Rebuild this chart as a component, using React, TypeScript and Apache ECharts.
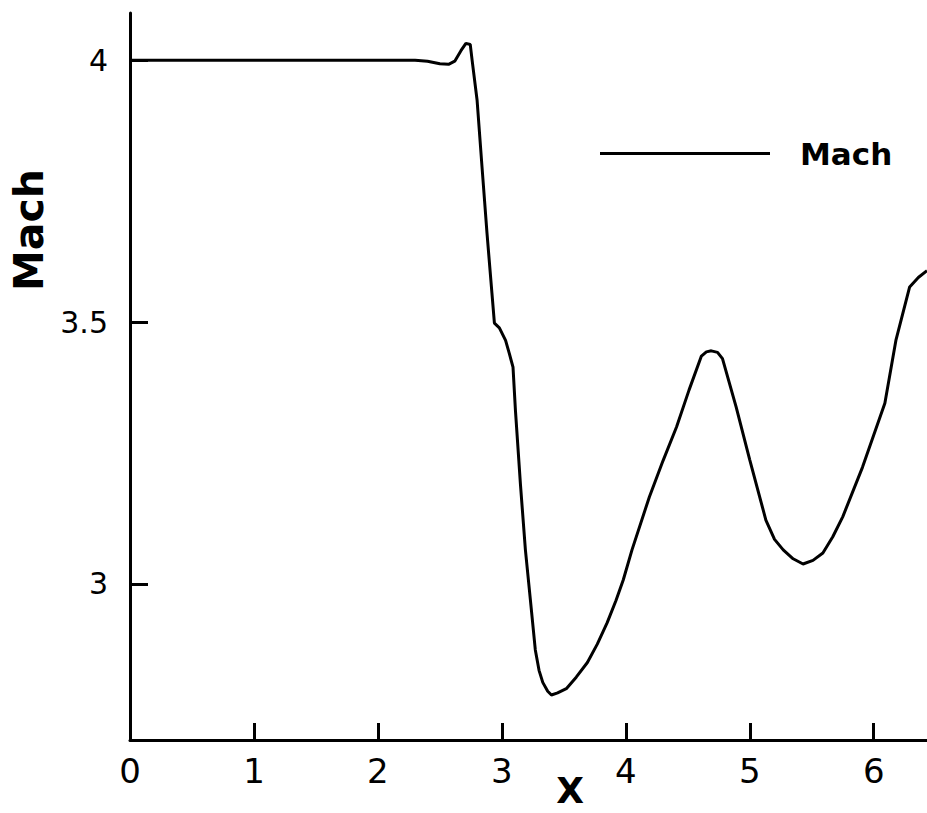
import React, { useEffect, useRef } from "react";
import * as echarts from "echarts";

const xValues = [
  0, 2.3, 2.4, 2.5, 2.57, 2.62, 2.67, 2.71, 2.745, 2.76, 2.8, 2.84, 2.88, 2.92, 2.94, 2.98, 3.03, 3.06,
  3.09, 3.11, 3.15, 3.19, 3.23, 3.27, 3.3, 3.33, 3.37, 3.4, 3.45, 3.52, 3.6, 3.69, 3.77, 3.85, 3.92,
  3.98, 4.05, 4.19, 4.3, 4.41, 4.51, 4.61, 4.65, 4.69, 4.74, 4.78, 4.89, 5.0, 5.13, 5.2, 5.27, 5.35,
  5.43, 5.51, 5.59, 5.67, 5.75, 5.91, 6.09, 6.18, 6.29, 6.36, 6.43,
];
const machValues = [
  4.0, 4.0, 3.998, 3.993, 3.992, 3.998, 4.018, 4.032, 4.03, 4.0, 3.924, 3.796, 3.67, 3.555, 3.498,
  3.489, 3.465, 3.44, 3.414, 3.33, 3.19, 3.065, 2.97, 2.874, 2.835, 2.812, 2.795, 2.788, 2.792, 2.8,
  2.822, 2.85, 2.885, 2.926, 2.968, 3.008, 3.065, 3.166, 3.235, 3.3, 3.37, 3.435, 3.443, 3.445, 3.442,
  3.43, 3.338, 3.237, 3.122, 3.085, 3.065, 3.048, 3.038, 3.045, 3.059, 3.09, 3.128, 3.223, 3.345,
  3.466, 3.567, 3.585, 3.598,
];
const xTicks = [0, 1, 2, 3, 4, 5, 6];
const yTicks = [3, 3.5, 4];
const seriesName = "Mach";
const xAxisTitle = "X";
const yAxisTitle = "Mach";

export default function App() {
  const ref = useRef<HTMLDivElement>(null);
  useEffect(() => {
    if (!ref.current) return;
    const chart = echarts.init(ref.current, undefined, { renderer: "svg" });
    const data = xValues.map((x, i) => [x, machValues[i]]);
    chart.setOption({
      animation: false,
      backgroundColor: "#fff",
      grid: { left: 130, right: 0, top: 13, bottom: 73 },
      legend: {
        left: 600,
        top: 138,
        padding: 0,
        icon: "rect",
        itemWidth: 170,
        itemHeight: 3,
        data: [seriesName],
        textStyle: {
          fontFamily: "DejaVu Sans",
          fontWeight: "bold",
          fontSize: 31,
          color: "#000",
          padding: [0, 0, 0, 25],
        },
      },
      xAxis: {
        type: "value",
        min: 0,
        max: 6.43,
        splitLine: { show: false },
        axisLine: { show: true, onZero: false, lineStyle: { color: "#000", width: 3 } },
        axisTick: { show: true, inside: true, length: 17, customValues: xTicks, lineStyle: { color: "#000", width: 3 } },
        axisLabel: {
          customValues: xTicks,
          margin: 14,
          fontFamily: "DejaVu Sans",
          fontSize: 34,
          color: "#000",
          formatter: (v: number) => String(v),
        },
      },
      yAxis: {
        type: "value",
        min: 2.702,
        max: 4.09,
        splitLine: { show: false },
        axisLine: { show: true, onZero: false, lineStyle: { color: "#000", width: 3 } },
        axisTick: { show: true, inside: true, length: 18, customValues: yTicks, lineStyle: { color: "#000", width: 3 } },
        axisLabel: {
          customValues: yTicks,
          margin: 22,
          fontFamily: "DejaVu Sans",
          fontSize: 30,
          color: "#000",
          formatter: (v: number) => String(v),
        },
      },
      graphic: [
        {
          type: "text",
          x: 29,
          y: 230,
          rotation: Math.PI / 2,
          style: {
            text: yAxisTitle,
            fontFamily: "DejaVu Sans",
            fontWeight: "bold",
            fontSize: 41,
            fill: "#000",
            align: "center",
            verticalAlign: "middle",
          },
        },
        {
          type: "text",
          x: 570,
          y: 790,
          style: {
            text: xAxisTitle,
            fontFamily: "DejaVu Sans",
            fontWeight: "bold",
            fontSize: 36,
            fill: "#000",
            align: "center",
            verticalAlign: "middle",
          },
        },
      ],
      series: [
        {
          name: seriesName,
          type: "line",
          data,
          showSymbol: false,
          smooth: false,
          color: "#000",
          lineStyle: { color: "#000", width: 3 },
        },
      ],
    });
    return () => chart.dispose();
  }, []);
  return (
    <div
      ref={ref}
      style={{ position: "fixed", left: 0, top: 0, width: 927, height: 813, background: "#fff" }}
    />
  );
}
